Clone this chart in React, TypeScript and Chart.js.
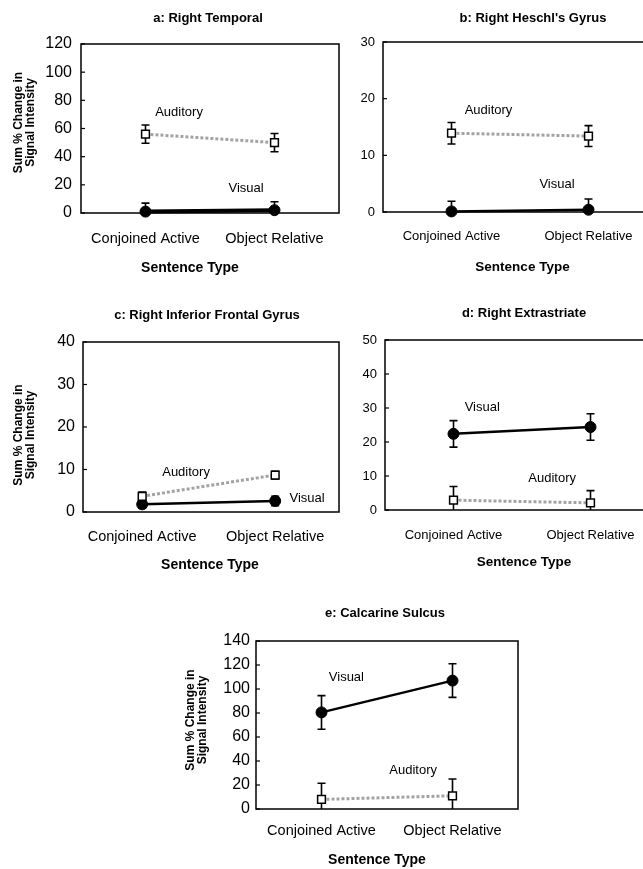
import React, { useEffect, useRef } from 'react';
import { Chart, registerables } from 'chart.js';
Chart.register(...registerables);

// ---------- data ----------
const categories = ['Conjoined Active', 'Object Relative'];
const categoryPositions = [1, 2];
const seriesNames = ['Auditory', 'Visual'];
const yAxisTitle = ['Sum % Change in', 'Signal Intensity'];
const xAxisTitle = 'Sentence Type';

const aTitle = 'a: Right Temporal';
const aVisual = [1, 2];
const aVisualErr = [6, 6];
const aAuditory = [56, 50];
const aAuditoryErr = [6.5, 6.5];
const aYMax = 120;
const aYStep = 20;

const bTitle = "b: Right Heschl's Gyrus";
const bVisual = [0.1, 0.4];
const bVisualErr = [1.8, 1.9];
const bAuditory = [13.9, 13.4];
const bAuditoryErr = [1.9, 1.85];
const bYMax = 30;
const bYStep = 10;

const cTitle = 'c: Right Inferior Frontal Gyrus';
const cVisual = [1.8, 2.6];
const cVisualErr = [0.9, 1.1];
const cAuditory = [3.7, 8.7];
const cAuditoryErr = [1.0, 0.9];
const cYMax = 40;
const cYStep = 10;

const dTitle = 'd: Right Extrastriate';
const dVisual = [22.4, 24.4];
const dVisualErr = [3.9, 3.9];
const dAuditory = [2.9, 2.1];
const dAuditoryErr = [4.0, 3.6];
const dYMax = 50;
const dYStep = 10;

const eTitle = 'e: Calcarine Sulcus';
const eVisual = [80.5, 107];
const eVisualErr = [14, 14];
const eAuditory = [8, 11];
const eAuditoryErr = [13.5, 14];
const eYMax = 140;
const eYStep = 20;

const FONT = "'Liberation Sans', Arial, Helvetica, sans-serif";

type PanelCfg = {
  title: string;
  left: number; top: number; width: number; height: number;
  area: { l: number; t: number; r: number; b: number };
  xMin: number; xMax: number;
  yMax: number; yStep: number;
  visual: number[]; visualErr: number[];
  auditory: number[]; auditoryErr: number[];
  yTickFont: number; xTickFont: number;
  yTickPad: number; xTickPad: number;
  titleDX: number; titleDY: number;
  xTitleDX: number; xTitleDY: number; xTitleFont: number;
  yTitle: null | { x1: number; x2: number; dy: number };
  audLabel: [number, number]; visLabel: [number, number];
  visualWidth: number;
};

const panels: PanelCfg[] = [
  {
    title: aTitle, left: 0, top: 0, width: 346, height: 285,
    area: { l: 81, t: 44, r: 343, b: 213 }, xMin: 0.5, xMax: 2.5,
    yMax: aYMax, yStep: aYStep,
    visual: aVisual, visualErr: aVisualErr, auditory: aAuditory, auditoryErr: aAuditoryErr,
    yTickFont: 16, xTickFont: 14.5, yTickPad: 9, xTickPad: 17,
    titleDX: -2, titleDY: -26, xTitleDX: -20, xTitleDY: 55, xTitleFont: 14,
    yTitle: { x1: -62, x2: -50, dy: -6 },
    audLabel: [1.26, 71.7], visLabel: [1.78, 17.8], visualWidth: 4,
  },
  {
    title: bTitle, left: 346, top: 0, width: 330, height: 285,
    area: { l: 383, t: 42, r: 657, b: 212 }, xMin: 0.5, xMax: 2.5,
    yMax: bYMax, yStep: bYStep,
    visual: bVisual, visualErr: bVisualErr, auditory: bAuditory, auditoryErr: bAuditoryErr,
    yTickFont: 13, xTickFont: 13, yTickPad: 8, xTickPad: 17,
    titleDX: 13, titleDY: -24, xTitleDX: 2.5, xTitleDY: 55, xTitleFont: 13.5,
    yTitle: null,
    audLabel: [1.27, 18], visLabel: [1.77, 4.8], visualWidth: 2.5,
  },
  {
    title: cTitle, left: 0, top: 290, width: 346, height: 290,
    area: { l: 83, t: 342, r: 343, b: 512 }, xMin: 0.555, xMax: 2.48,
    yMax: cYMax, yStep: cYStep,
    visual: cVisual, visualErr: cVisualErr, auditory: cAuditory, auditoryErr: cAuditoryErr,
    yTickFont: 16, xTickFont: 14.5, yTickPad: 8, xTickPad: 16,
    titleDX: -4, titleDY: -27, xTitleDX: -1, xTitleDY: 53, xTitleFont: 14,
    yTitle: { x1: -64, x2: -52, dy: 8 },
    audLabel: [1.33, 9.4], visLabel: [2.24, 3.2], visualWidth: 2.5,
  },
  {
    title: dTitle, left: 346, top: 290, width: 330, height: 290,
    area: { l: 385, t: 340, r: 659, b: 510 }, xMin: 0.5, xMax: 2.5,
    yMax: dYMax, yStep: dYStep,
    visual: dVisual, visualErr: dVisualErr, auditory: dAuditory, auditoryErr: dAuditoryErr,
    yTickFont: 13, xTickFont: 13, yTickPad: 8, xTickPad: 18,
    titleDX: 2, titleDY: -27, xTitleDX: 2, xTitleDY: 52, xTitleFont: 13.5,
    yTitle: null,
    audLabel: [1.72, 9.4], visLabel: [1.21, 30.3], visualWidth: 2.5,
  },
  {
    title: eTitle, left: 180, top: 580, width: 350, height: 289,
    area: { l: 256, t: 641, r: 518, b: 809 }, xMin: 0.5, xMax: 2.5,
    yMax: eYMax, yStep: eYStep,
    visual: eVisual, visualErr: eVisualErr, auditory: eAuditory, auditoryErr: eAuditoryErr,
    yTickFont: 16, xTickFont: 14.5, yTickPad: 6, xTickPad: 13,
    titleDX: -2, titleDY: -28, xTitleDX: -10, xTitleDY: 51, xTitleFont: 14,
    yTitle: { x1: -65, x2: -53, dy: -5 },
    audLabel: [1.70, 32], visLabel: [1.19, 110], visualWidth: 2.5,
  },
];

function Panel({ cfg }: { cfg: PanelCfg }) {
  const ref = useRef<HTMLCanvasElement>(null);
  useEffect(() => {
    const canvas = ref.current!;
    const yAxisWidth = cfg.area.l - cfg.left;
    const xAxisHeight = cfg.top + cfg.height - cfg.area.b;
    const pad = {
      left: 0,
      top: cfg.area.t - cfg.top,
      right: cfg.left + cfg.width - cfg.area.r,
      bottom: 0,
    };
    const errs = [cfg.auditoryErr, cfg.visualErr];

    const decor = {
      id: 'panelDecor',
      beforeDatasetsDraw(chart: any) {
        const { ctx, chartArea: ca, scales } = chart;
        ctx.save();
        ctx.strokeStyle = '#000';
        ctx.lineWidth = 1.5;
        ctx.strokeRect(ca.left, ca.top, ca.right - ca.left, ca.bottom - ca.top);
        // inward y ticks
        ctx.lineWidth = 1.2;
        scales.y.ticks.forEach((t: any) => {
          const y = scales.y.getPixelForValue(t.value);
          ctx.beginPath();
          ctx.moveTo(ca.left, y);
          ctx.lineTo(ca.left + 4, y);
          ctx.stroke();
        });
        // error bars
        ctx.lineWidth = 1.6;
        chart.data.datasets.forEach((ds: any, di: number) => {
          ds.data.forEach((p: any, i: number) => {
            const e = errs[di][i];
            const x = scales.x.getPixelForValue(p.x);
            let yt = scales.y.getPixelForValue(p.y + e);
            let yb = scales.y.getPixelForValue(p.y - e);
            const topIn = yt >= ca.top;
            const botIn = yb <= ca.bottom;
            yt = Math.max(yt, ca.top);
            yb = Math.min(yb, ca.bottom);
            ctx.beginPath();
            ctx.moveTo(x, yt);
            ctx.lineTo(x, yb);
            if (topIn) { ctx.moveTo(x - 4, yt); ctx.lineTo(x + 4, yt); }
            if (botIn) { ctx.moveTo(x - 4, yb); ctx.lineTo(x + 4, yb); }
            ctx.stroke();
          });
        });
        ctx.restore();
      },
      afterDraw(chart: any) {
        const { ctx, chartArea: ca, scales } = chart;
        const cx = (ca.left + ca.right) / 2;
        const cy = (ca.top + ca.bottom) / 2;
        ctx.save();
        ctx.fillStyle = '#000';
        ctx.textAlign = 'center';
        ctx.textBaseline = 'middle';
        ctx.font = `bold 13px ${FONT}`;
        ctx.fillText(cfg.title, cx + cfg.titleDX, ca.top + cfg.titleDY);
        ctx.font = `bold ${cfg.xTitleFont}px ${FONT}`;
        ctx.fillText(xAxisTitle, cx + cfg.xTitleDX, ca.bottom + cfg.xTitleDY);
        if (cfg.yTitle) {
          ctx.font = `bold 12px ${FONT}`;
          const xs = [cfg.yTitle.x1, cfg.yTitle.x2];
          yAxisTitle.forEach((line, i) => {
            ctx.save();
            ctx.translate(ca.left + xs[i], cy + cfg.yTitle!.dy);
            ctx.rotate(-Math.PI / 2);
            ctx.fillText(line, 0, 0);
            ctx.restore();
          });
        }
        ctx.font = `13px ${FONT}`;
        const labels: [string, [number, number]][] = [
          [seriesNames[0], cfg.audLabel],
          [seriesNames[1], cfg.visLabel],
        ];
        labels.forEach(([txt, pos]) => {
          ctx.fillText(txt, scales.x.getPixelForValue(pos[0]), scales.y.getPixelForValue(pos[1]));
        });
        ctx.restore();
      },
    };

    const chart = new Chart(canvas, {
      type: 'line',
      data: {
        datasets: [
          {
            label: seriesNames[0],
            data: categoryPositions.map((x, i) => ({ x, y: cfg.auditory[i] })),
            borderColor: '#a3a3a3',
            borderWidth: 3,
            borderDash: [3, 2],
            pointStyle: 'rect',
            pointRadius: 5.5,
            pointBackgroundColor: '#fff',
            pointBorderColor: '#000',
            pointBorderWidth: 1.5,
            clip: false,
            order: 0,
          } as any,
          {
            label: seriesNames[1],
            data: categoryPositions.map((x, i) => ({ x, y: cfg.visual[i] })),
            borderColor: '#000',
            borderWidth: cfg.visualWidth,
            pointStyle: 'circle',
            pointRadius: 5.5,
            pointBackgroundColor: '#000',
            pointBorderColor: '#000',
            pointBorderWidth: 1,
            clip: false,
            order: 1,
          } as any,
        ],
      },
      options: {
        responsive: false,
        animation: false,
        devicePixelRatio: 1,
        layout: { padding: pad },
        plugins: {
          legend: { display: false },
          tooltip: { enabled: false },
          title: { display: false },
        },
        scales: {
          x: {
            type: 'linear',
            min: cfg.xMin,
            max: cfg.xMax,
            afterFit: (s: any) => { s.height = xAxisHeight; },
            afterBuildTicks: (s: any) => { s.ticks = categoryPositions.map((v) => ({ value: v })); },
            grid: { display: false, drawTicks: false },
            border: { display: false },
            ticks: {
              autoSkip: false,
              maxRotation: 0,
              minRotation: 0,
              color: '#000',
              padding: cfg.xTickPad,
              font: { family: FONT, size: cfg.xTickFont },
              callback: (v: any) => {
                const idx = categoryPositions.indexOf(Number(v));
                return idx >= 0 ? categories[idx] : '';
              },
            },
          },
          y: {
            type: 'linear',
            min: 0,
            max: cfg.yMax,
            afterFit: (s: any) => { s.width = yAxisWidth; },
            grid: { display: false, drawTicks: false },
            border: { display: false },
            ticks: {
              stepSize: cfg.yStep,
              color: '#000',
              padding: cfg.yTickPad,
              font: { family: FONT, size: cfg.yTickFont },
            },
          },
        },
      } as any,
      plugins: [decor as any],
    });
    return () => chart.destroy();
  }, []);
  return (
    <canvas
      ref={ref}
      width={cfg.width}
      height={cfg.height}
      style={{ position: 'absolute', left: cfg.left, top: cfg.top, width: cfg.width, height: cfg.height }}
    />
  );
}

export default function App() {
  return (
    <div
      style={{
        position: 'absolute',
        left: 0,
        top: 0,
        width: 643,
        height: 869,
        overflow: 'hidden',
        background: '#fff',
      }}
    >
      {panels.map((p, i) => (
        <Panel key={i} cfg={p} />
      ))}
    </div>
  );
}
